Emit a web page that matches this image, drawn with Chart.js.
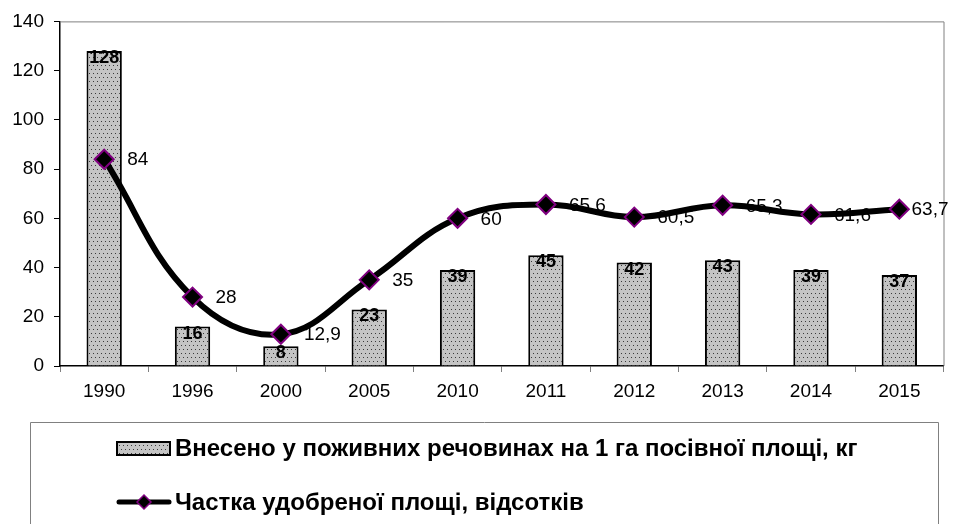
<!DOCTYPE html>
<html>
<head>
<meta charset="utf-8">
<script src="https://cdn.jsdelivr.net/npm/chart.js@4/dist/chart.umd.min.js"></script>
<style>
html,body{margin:0;padding:0;background:#fff;}
#wrap{width:955px;height:524px;position:relative;}
</style>
</head>
<body>
<div id="wrap"><canvas id="c" width="955" height="524"></canvas></div>
<script>
const years = ['1990','1996','2000','2005','2010','2011','2012','2013','2014','2015'];
const fertilizerKg = [128,16,8,23,39,45,42,43,39,37];
const fertilizedShare = [84,28,12.9,35,60,65.6,60.5,65.3,61.6,63.7];
const barLabel = 'Внесено у поживних речовинах на 1 га посівної площі, кг';
const lineLabel = 'Частка удобреної площі, відсотків';
const yTicks = [0,20,40,60,80,100,120,140];

function makePattern(){
  const p = document.createElement('canvas');
  p.width = 8; p.height = 8;
  const g = p.getContext('2d');
  g.fillStyle = '#c4c4c4'; g.fillRect(0,0,8,8);
  g.fillStyle = '#3a3a3a';
  [[1,1],[5,1],[3,5],[7,5]].forEach(([x,y])=>g.fillRect(x,y,1,1));
  return g.createPattern(p,'repeat');
}
const ctx = document.getElementById('c').getContext('2d');
const pattern = makePattern();
const fmt = v => String(v).replace('.', ',');
const FONT = "'Liberation Sans',Arial,sans-serif";

const decor = {
  id:'decor',
  beforeDatasetsDraw(chart){
    const {ctx, chartArea:a} = chart;
    ctx.save();
    ctx.strokeStyle = '#808080'; ctx.lineWidth = 1;
    ctx.beginPath();
    ctx.moveTo(a.left, a.top+0.5); ctx.lineTo(a.right+0.5, a.top+0.5); ctx.lineTo(a.right+0.5, a.bottom);
    ctx.stroke();
    ctx.restore();
  },
  afterDatasetsDraw(chart){
    const {ctx, chartArea:a} = chart;
    ctx.save();
    // bar labels
    const bm = chart.getDatasetMeta(1);
    ctx.font = "bold 18px " + FONT;
    ctx.fillStyle = '#000'; ctx.textAlign = 'center'; ctx.textBaseline = 'middle';
    bm.data.forEach((el,i)=>{ ctx.fillText(fmt(fertilizerKg[i]), el.x, el.y + 7); });
    // line labels
    const lm = chart.getDatasetMeta(0);
    ctx.font = "19px " + FONT;
    ctx.textAlign = 'left';
    lm.data.forEach((el,i)=>{
      const t = fmt(fertilizedShare[i]);
      const w = ctx.measureText(t).width;
      const x = Math.min(el.x + 23, a.right + 5 - w);
      ctx.fillText(t, x, el.y + 1);
    });
    ctx.restore();
  },
  afterDraw(chart){
    const {ctx} = chart;
    ctx.save();
    ctx.strokeStyle = '#808080'; ctx.lineWidth = 1;
    ctx.beginPath();
    ctx.moveTo(30.5, 530); ctx.lineTo(30.5, 422.5); ctx.lineTo(938.5, 422.5); ctx.lineTo(938.5, 530);
    ctx.stroke();
    // bar swatch
    ctx.fillStyle = pattern; ctx.fillRect(117, 442, 53, 13);
    ctx.strokeStyle = '#000'; ctx.lineWidth = 2; ctx.strokeRect(117, 442, 53, 13);
    // line swatch
    ctx.beginPath(); ctx.lineWidth = 5; ctx.lineCap = 'round';
    ctx.moveTo(119, 502); ctx.lineTo(169, 502); ctx.stroke();
    ctx.beginPath();
    ctx.moveTo(137,502); ctx.lineTo(144,495); ctx.lineTo(151,502); ctx.lineTo(144,509); ctx.closePath();
    ctx.fillStyle = '#000'; ctx.fill(); ctx.strokeStyle = '#800080'; ctx.lineWidth = 1.5; ctx.stroke();
    ctx.font = "bold 24px " + FONT; ctx.fillStyle = '#000'; ctx.textAlign = 'left'; ctx.textBaseline = 'middle';
    ctx.fillText(chart.data.datasets[1].label, 175, 449);
    ctx.fillText(chart.data.datasets[0].label, 175, 503);
    ctx.restore();
  }
};

new Chart(ctx, {
  data: {
    labels: years,
    datasets: [
      { type:'line', label: lineLabel, data: fertilizedShare, order: 0,
        borderColor:'#000', borderWidth:6, tension:0.4, fill:false,
        pointStyle:'rectRot', pointRadius:9.5, pointHoverRadius:9.5,
        pointBackgroundColor:'#000', pointBorderColor:'#800080', pointBorderWidth:2 },
      { type:'bar', label: barLabel, data: fertilizerKg, order: 1,
        backgroundColor: pattern, borderColor:'#000', borderWidth:2,
        barPercentage:0.4, categoryPercentage:1 }
    ]
  },
  options: {
    responsive:false, animation:false, devicePixelRatio:1,
    layout:{ padding:{ left:0, top:20, right:11, bottom:0 } },
    plugins:{ legend:{display:false}, tooltip:{enabled:false} },
    scales:{
      x:{
        afterFit(s){ s.height = 158; },
        grid:{ offset:true, drawOnChartArea:false, tickLength:6, color:'#808080' },
        border:{ color:'#000', width:1.5 },
        ticks:{ color:'#000', font:{ family:FONT, size:19 }, padding:8 }
      },
      y:{
        min:0, max:140,
        afterFit(s){ s.width = 60; },
        afterBuildTicks(s){ s.ticks = yTicks.map(v=>({value:v})); },
        grid:{ drawOnChartArea:false, tickLength:6, color:'#000' },
        border:{ color:'#000', width:1.5 },
        ticks:{ color:'#000', font:{ family:FONT, size:19 }, padding:10 }
      }
    }
  },
  plugins:[decor]
});
</script>
</body>
</html>
